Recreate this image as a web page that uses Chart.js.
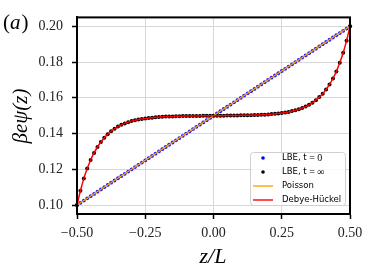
<!DOCTYPE html>
<html>
<head>
<meta charset="utf-8">
<script src="https://cdn.jsdelivr.net/npm/chart.js"></script>
<style>
  html, body { margin: 0; padding: 0; background: #fff; }
</style>
</head>
<body>
<canvas id="myChart" width="374" height="280"></canvas>
<script>
// z/L grid of the lattice points
var zValues = [-0.5, -0.4875, -0.475, -0.4625, -0.45, -0.4375, -0.425, -0.4125, -0.4, -0.3875,
    -0.375, -0.3625, -0.35, -0.3375, -0.325, -0.3125, -0.3, -0.2875, -0.275, -0.2625,
    -0.25, -0.2375, -0.225, -0.2125, -0.2, -0.1875, -0.175, -0.1625, -0.15, -0.1375,
    -0.125, -0.1125, -0.1, -0.0875, -0.075, -0.0625, -0.05, -0.0375, -0.025, -0.0125,
    0, 0.0125, 0.025, 0.0375, 0.05, 0.0625, 0.075, 0.0875, 0.1, 0.1125,
    0.125, 0.1375, 0.15, 0.1625, 0.175, 0.1875, 0.2, 0.2125, 0.225, 0.2375,
    0.25, 0.2625, 0.275, 0.2875, 0.3, 0.3125, 0.325, 0.3375, 0.35, 0.3625,
    0.375, 0.3875, 0.4, 0.4125, 0.425, 0.4375, 0.45, 0.4625, 0.475, 0.4875, 0.5];

// LBE, t = 0
var lbeStart = [0.1, 0.10125, 0.1025, 0.10375, 0.105, 0.10625, 0.1075, 0.10875, 0.11, 0.11125,
    0.1125, 0.11375, 0.115, 0.11625, 0.1175, 0.11875, 0.12, 0.12125, 0.1225, 0.12375,
    0.125, 0.12625, 0.1275, 0.12875, 0.13, 0.13125, 0.1325, 0.13375, 0.135, 0.13625,
    0.1375, 0.13875, 0.14, 0.14125, 0.1425, 0.14375, 0.145, 0.14625, 0.1475, 0.14875,
    0.15, 0.15125, 0.1525, 0.15375, 0.155, 0.15625, 0.1575, 0.15875, 0.16, 0.16125,
    0.1625, 0.16375, 0.165, 0.16625, 0.1675, 0.16875, 0.17, 0.17125, 0.1725, 0.17375,
    0.175, 0.17625, 0.1775, 0.17875, 0.18, 0.18125, 0.1825, 0.18375, 0.185, 0.18625,
    0.1875, 0.18875, 0.19, 0.19125, 0.1925, 0.19375, 0.195, 0.19625, 0.1975, 0.19875, 0.2];

// LBE, t = inf
var lbeEnd = [0.1000, 0.1080, 0.1148, 0.1204, 0.1252, 0.1292, 0.1325, 0.1353, 0.1377, 0.1396,
    0.1413, 0.1427, 0.1439, 0.1449, 0.1457, 0.1464, 0.1470, 0.1474, 0.1479, 0.1482,
    0.1485, 0.1487, 0.1489, 0.1491, 0.1493, 0.1494, 0.1495, 0.1496, 0.1496, 0.1497,
    0.1497, 0.1498, 0.1498, 0.1499, 0.1499, 0.1499, 0.1499, 0.1500, 0.1500, 0.1500,
    0.1500, 0.1500, 0.1500, 0.1500, 0.1501, 0.1501, 0.1501, 0.1501, 0.1502, 0.1502,
    0.1503, 0.1503, 0.1504, 0.1504, 0.1505, 0.1506, 0.1507, 0.1509, 0.1511, 0.1513,
    0.1515, 0.1518, 0.1521, 0.1526, 0.1530, 0.1536, 0.1543, 0.1551, 0.1561, 0.1573,
    0.1587, 0.1604, 0.1623, 0.1647, 0.1675, 0.1708, 0.1748, 0.1796, 0.1852, 0.1920, 0.2000];

// Debye-Hückel curve (same grid)
var dhValues = lbeEnd.slice();

// Poisson (straight line between the walls)
var poissonZ = [-0.5, 0.5];
var poissonPsi = [0.1, 0.2];

var xTicks = [-0.5, -0.25, 0, 0.25, 0.5];
var yTicks = [0.10, 0.12, 0.14, 0.16, 0.18, 0.20];

function pts(xs, ys) {
    return xs.map(function (x, i) { return { x: x, y: ys[i] }; });
}

var serif = '"Liberation Serif", "DejaVu Serif", serif';
var sans = '"DejaVu Sans", sans-serif';

var framePlugin = {
    id: 'frame',
    afterDatasetsDraw: function (chart) {
        var a = chart.chartArea, c = chart.ctx;
        c.save();
        c.strokeStyle = '#000';
        c.lineWidth = 2;
        c.strokeRect(a.left, a.top, a.right - a.left, a.bottom - a.top);
        c.restore();
    },
    afterDraw: function (chart) {
        var c = chart.ctx;
        c.save();
        c.fillStyle = '#000';
        // panel label
        c.textBaseline = 'middle';
        c.textAlign = 'left';
        c.font = '21px ' + serif;
        c.fillText('(', 3, 23);
        var w = c.measureText('(').width;
        c.font = 'italic 21px ' + serif;
        c.fillText('a', 3 + w, 23);
        w += c.measureText('a').width + 1;
        c.font = '21px ' + serif;
        c.fillText(')', 3 + w, 23);

        // axis titles
        c.textAlign = 'center';
        c.font = 'italic 22px ' + serif;
        c.fillText('z/L', 213, 257);
        c.translate(21, 116);
        c.rotate(-Math.PI / 2);
        c.font = 'italic 21px ' + serif;
        c.fillText('\u03b2e\u03c8(z)', 0, 0);
        c.restore();

        // legend box
        c.save();
        c.beginPath();
        c.roundRect(250.5, 152.5, 95, 53, 3);
        c.fillStyle = 'rgba(255,255,255,0.85)';
        c.fill();
        c.strokeStyle = '#d0d0d0';
        c.lineWidth = 1;
        c.stroke();

        var rows = [
            { y: 158, kind: 'dot', color: '#0000ff', parts: [['LBE, ', sans], ['t', 'italic ' + serif], [' = 0', serif]] },
            { y: 172, kind: 'dot', color: '#000000', parts: [['LBE, ', sans], ['t', 'italic ' + serif], [' = \u221e', serif]] },
            { y: 186, kind: 'line', color: '#ffa500', parts: [['Poisson', sans]] },
            { y: 200, kind: 'line', color: '#ff0000', parts: [['Debye-H\u00fcckel', sans]] }
        ];
        rows.forEach(function (r) {
            if (r.kind === 'dot') {
                c.fillStyle = r.color;
                c.beginPath();
                c.arc(263, r.y, 1.8, 0, Math.PI * 2);
                c.fill();
            } else {
                c.strokeStyle = r.color;
                c.lineWidth = 1.4;
                c.beginPath();
                c.moveTo(253, r.y);
                c.lineTo(273, r.y);
                c.stroke();
            }
            var x = 282;
            c.fillStyle = '#000';
            c.textAlign = 'left';
            c.textBaseline = 'middle';
            r.parts.forEach(function (p) {
                c.font = (p[1] === sans ? '8.5px ' : '10px ') + p[1];
                c.fillText(p[0], x, r.y);
                x += c.measureText(p[0]).width;
            });
        });
        c.restore();
    }
};

new Chart("myChart", {
    type: "scatter",
    data: {
        datasets: [{
            label: "LBE, t = 0",
            data: pts(zValues, lbeStart),
            showLine: false,
            pointRadius: 1.9,
            pointBackgroundColor: "#1a1aff",
            pointBorderWidth: 0,
            order: 4,
            clip: 3
        }, {
            label: "LBE, t = inf",
            data: pts(zValues, lbeEnd),
            showLine: false,
            pointRadius: 2,
            pointBackgroundColor: "#000000",
            pointBorderWidth: 0,
            order: 3,
            clip: 3
        }, {
            label: "Poisson",
            data: pts(poissonZ, poissonPsi),
            showLine: true,
            borderColor: "#ffa500",
            borderWidth: 1.3,
            pointRadius: 0,
            order: 2
        }, {
            label: "Debye-Hückel",
            data: pts(zValues, dhValues),
            showLine: true,
            borderColor: "#ff0000",
            borderWidth: 1.5,
            pointRadius: 0,
            cubicInterpolationMode: "monotone",
            order: 1
        }]
    },
    options: {
        responsive: false,
        animation: false,
        layout: { padding: { left: 0, right: 24, top: 15, bottom: 0 } },
        plugins: { legend: { display: false }, tooltip: { enabled: false } },
        scales: {
            x: {
                type: "linear",
                min: -0.5,
                max: 0.5,
                afterBuildTicks: function (s) { s.ticks = xTicks.map(function (v) { return { value: v }; }); },
                afterFit: function (s) { s.height = 66; },
                grid: { color: "#d8d8d8", lineWidth: 1, tickColor: "#000", tickWidth: 1.5, tickLength: 5 },
                border: { color: "#000", width: 2 },
                ticks: {
                    color: "#222",
                    padding: 6,
                    maxRotation: 0,
                    font: { family: serif, size: 14 },
                    callback: function (v) { return (v < 0 ? "\u2212" : "") + Math.abs(v).toFixed(2); }
                }
            },
            y: {
                min: 0.095,
                max: 0.205,
                afterBuildTicks: function (s) { s.ticks = yTicks.map(function (v) { return { value: v }; }); },
                afterFit: function (s) { s.width = 77; },
                grid: { color: "#d8d8d8", lineWidth: 1, tickColor: "#000", tickWidth: 1.5, tickLength: 5 },
                border: { color: "#000", width: 2 },
                ticks: {
                    color: "#222",
                    padding: 9,
                    font: { family: serif, size: 14 },
                    callback: function (v) { return v.toFixed(2); }
                }
            }
        }
    },
    plugins: [framePlugin]
});
</script>
</body>
</html>
